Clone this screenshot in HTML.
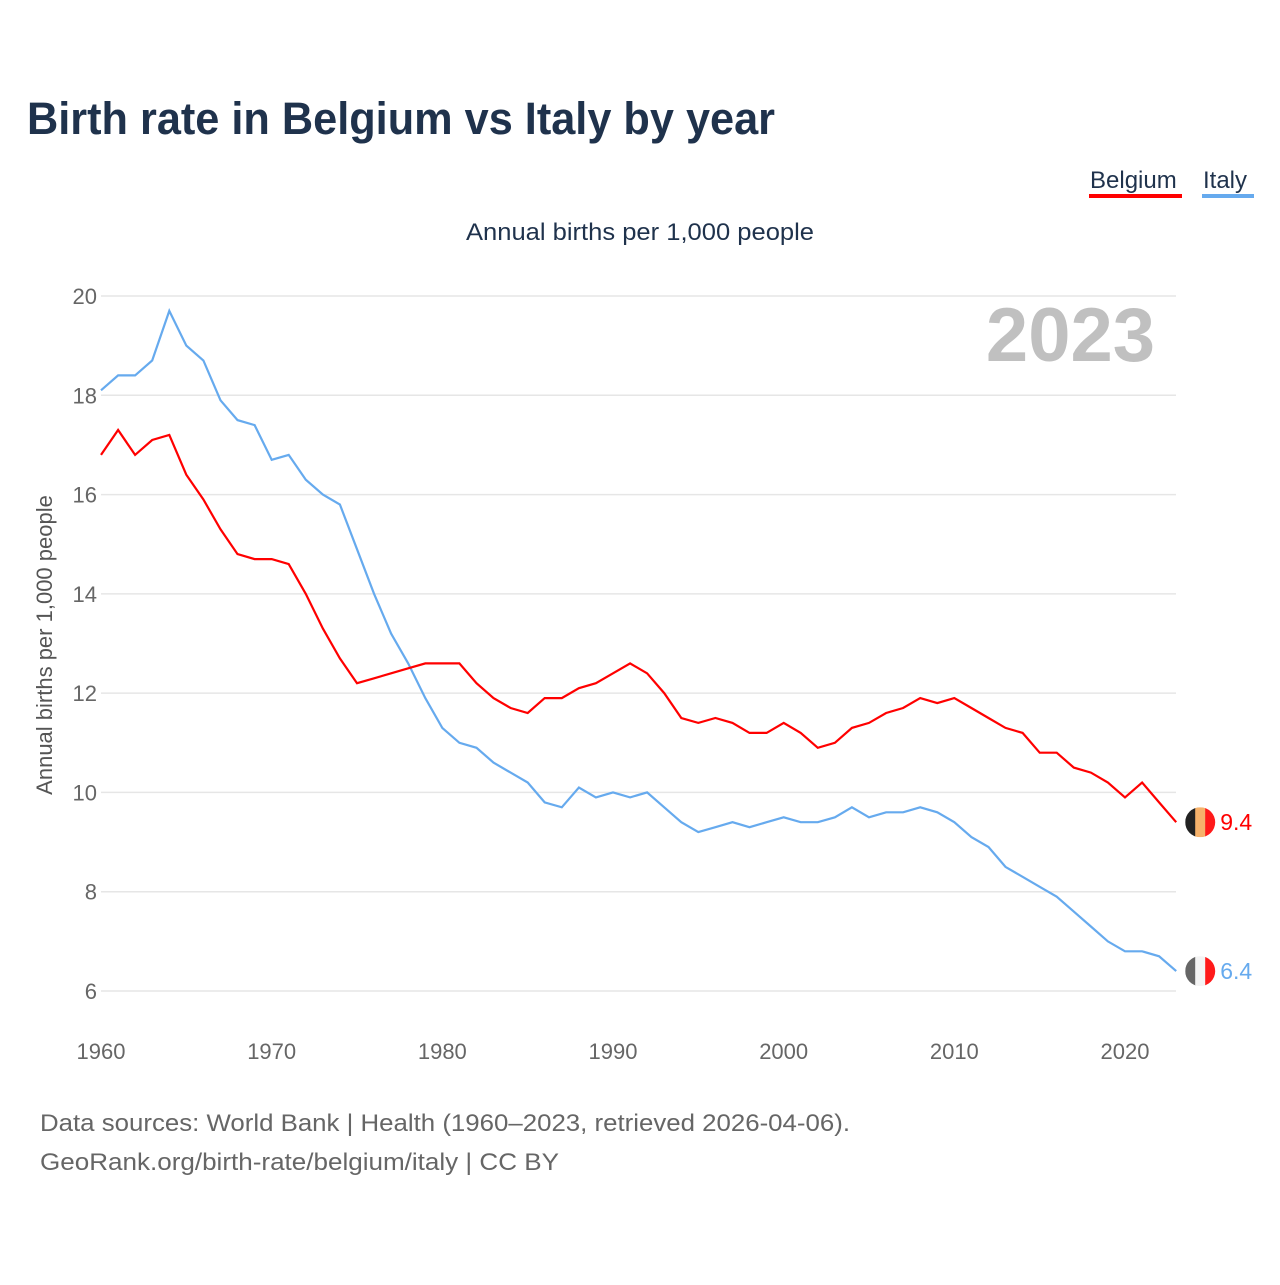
<!DOCTYPE html>
<html><head><meta charset="utf-8"><style>
body{margin:0;background:#fff;font-family:"Liberation Sans",sans-serif}
</style></head><body>
<svg width="1280" height="1280" xmlns="http://www.w3.org/2000/svg" font-family="Liberation Sans, sans-serif">
<rect width="1280" height="1280" fill="#fff"/>
<text x="27" y="134" font-size="45" font-weight="bold" fill="#1f324c" textLength="748" lengthAdjust="spacingAndGlyphs">Birth rate in Belgium vs Italy by year</text>
<g><text x="1090" y="188" font-size="24" fill="#1f324c">Belgium</text><rect x="1089" y="194" width="93" height="4" fill="#ff0000"/></g>
<g><text x="1203" y="188" font-size="24" fill="#1f324c">Italy</text><rect x="1202" y="194" width="52" height="4" fill="#66aaee"/></g>
<text x="466" y="240" font-size="24" fill="#1f324c" textLength="348" lengthAdjust="spacingAndGlyphs">Annual births per 1,000 people</text>
<text x="1155" y="361" font-size="76" font-weight="bold" fill="#c0c0c0" text-anchor="end">2023</text>
<text transform="translate(52,645) rotate(-90)" font-size="22" fill="#555" text-anchor="middle">Annual births per 1,000 people</text>
<g id="grid"></g><g id="lines"></g><g id="ticks"></g><g id="ends"></g>
<text x="40" y="1131" font-size="24" fill="#666" textLength="810" lengthAdjust="spacingAndGlyphs">Data sources: World Bank | Health (1960–2023, retrieved 2026-04-06).</text>
<text x="40" y="1170" font-size="24" fill="#666" textLength="519" lengthAdjust="spacingAndGlyphs">GeoRank.org/birth-rate/belgium/italy | CC BY</text>
</svg>
<script>
const years=[];for(let y=1960;y<=2023;y++)years.push(y);
const belgium=[16.8,17.3,16.8,17.1,17.2,16.4,15.9,15.3,14.8,14.7,14.7,14.6,14.0,13.3,12.7,12.2,12.3,12.4,12.5,12.6,12.6,12.6,12.2,11.9,11.7,11.6,11.9,11.9,12.1,12.2,12.4,12.6,12.4,12.0,11.5,11.4,11.5,11.4,11.2,11.2,11.4,11.2,10.9,11.0,11.3,11.4,11.6,11.7,11.9,11.8,11.9,11.7,11.5,11.3,11.2,10.8,10.8,10.5,10.4,10.2,9.9,10.2,9.8,9.4];
const italy=[18.1,18.4,18.4,18.7,19.7,19.0,18.7,17.9,17.5,17.4,16.7,16.8,16.3,16.0,15.8,14.9,14.0,13.2,12.6,11.9,11.3,11.0,10.9,10.6,10.4,10.2,9.8,9.7,10.1,9.9,10.0,9.9,10.0,9.7,9.4,9.2,9.3,9.4,9.3,9.4,9.5,9.4,9.4,9.5,9.7,9.5,9.6,9.6,9.7,9.6,9.4,9.1,8.9,8.5,8.3,8.1,7.9,7.6,7.3,7.0,6.8,6.8,6.7,6.4];
const yTicks=[6,8,10,12,14,16,18,20];
const xTicks=[1960,1970,1980,1990,2000,2010,2020];
const NS="http://www.w3.org/2000/svg";
const X=y=>101+(y-1960)*1024/60;
const Y=v=>296+(20-v)*695/14;
function mk(t,a,p){const e=document.createElementNS(NS,t);for(const k in a)e.setAttribute(k,a[k]);p.appendChild(e);return e;}
const grid=document.getElementById('grid'),ticks=document.getElementById('ticks'),lines=document.getElementById('lines'),ends=document.getElementById('ends');
yTicks.forEach(v=>{
const l=mk('line',{x1:101,x2:1176,y1:Y(v),y2:Y(v),stroke:'#e6e6e6','stroke-width':1.5},grid);


const t=mk('text',{x:97,y:Y(v)+8,'font-size':22,fill:'#666','text-anchor':'end'},ticks);t.textContent=v;


});
xTicks.forEach(v=>{
const t=mk('text',{x:X(v),y:1059,'font-size':22,fill:'#666','text-anchor':'middle'},ticks);t.textContent=v;


});
function series(vals,color,name,flag){
const p=mk('path',{d:vals.map((v,i)=>(i?'L':'M')+X(years[i]).toFixed(1)+' '+Y(v).toFixed(1)).join(''),fill:'none',stroke:color,'stroke-width':2.2},lines);


const last=vals[vals.length-1],cx=X(2023)+24,cy=Y(last);
const g=mk('g',{},ends);


const cid='c'+name;const cp=mk('clipPath',{id:cid},g);mk('circle',{cx:cx,cy:cy,r:15},cp);
flag.forEach((c,i)=>mk('rect',{x:cx-15+i*10,y:cy-15,width:10.5,height:30,fill:c,'clip-path':'url(#'+cid+')'},g));
const t=mk('text',{x:cx+20,y:cy+8,'font-size':23,fill:color},ends);t.textContent=last.toFixed(1);


}
series(italy,'#66aaee','italy',['#666','#f4f4f4','#ff1a1a']);
series(belgium,'#ff0000','belgium',['#222','#f6b26b','#ff1a1a']);
</script>
</body></html>
